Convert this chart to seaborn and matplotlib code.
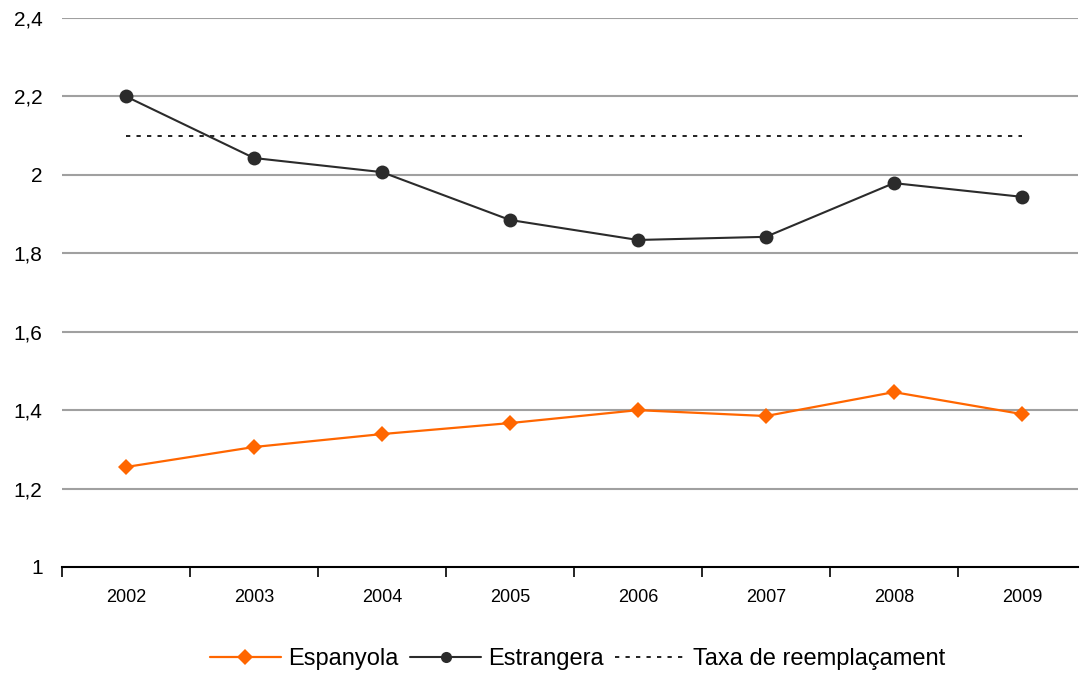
import matplotlib
matplotlib.use("Agg")
import matplotlib.pyplot as plt
import seaborn as sns
import pandas as pd
from matplotlib.lines import Line2D

years = ["2002", "2003", "2004", "2005", "2006", "2007", "2008", "2009"]
espanyola = [1.255, 1.306, 1.339, 1.367, 1.400, 1.385, 1.446, 1.390]
estrangera = [2.200, 2.043, 2.007, 1.885, 1.834, 1.842, 1.979, 1.944]
taxa = [2.1] * len(years)
y_ticks = [1.0, 1.2, 1.4, 1.6, 1.8, 2.0, 2.2, 2.4]
y_labels = ["1", "1,2", "1,4", "1,6", "1,8", "2", "2,2", "2,4"]

sns.set_theme(style="white")
plt.rcParams["font.family"] = ["Liberation Sans", "DejaVu Sans"]
plt.rcParams["text.color"] = "black"
plt.rcParams["xtick.color"] = "black"
plt.rcParams["ytick.color"] = "black"

pos = list(range(len(years)))
df = pd.DataFrame({"pos": pos, "Espanyola": espanyola,
                   "Estrangera": estrangera, "Taxa": taxa})

fig = plt.figure(figsize=(10.8, 6.75), dpi=100)
ax = fig.add_axes([0.0574, 0.16, 0.9406, 0.8133])

orange = "#FF6600"
dark = "#2B2B2B"

for yt in y_ticks[1:]:
    ax.axhline(yt, color="#A0A0A0", lw=1.5, zorder=0)

sns.lineplot(data=df, x="pos", y="Taxa", ax=ax, color="#222222", lw=1.4,
             linestyle=(0, (2.2, 3.2)), zorder=2)
sns.lineplot(data=df, x="pos", y="Espanyola", ax=ax, color=orange, lw=1.6,
             marker="D", markersize=8, markeredgewidth=0, zorder=3)
sns.lineplot(data=df, x="pos", y="Estrangera", ax=ax, color=dark, lw=1.5,
             marker="o", markersize=10, markeredgewidth=0, zorder=3)

ax.set_xlim(-0.5, len(years) - 0.5625)
ax.set_ylim(1.0, 2.4)
ax.set_yticks(y_ticks)
ax.set_yticklabels(y_labels, fontsize=15, color="black")
ax.tick_params(axis="y", length=0, pad=14)
ax.set_xticks(pos)
ax.set_xticklabels(years, fontsize=13, color="black")
ax.tick_params(axis="x", which="major", length=0, pad=16)
ax.set_xticks([p - 0.5 for p in pos], minor=True)
ax.tick_params(axis="x", which="minor", bottom=True, length=7, width=1.2,
               color="black", direction="out")
ax.set_xlabel("")
ax.set_ylabel("")

for side in ["left", "right", "top"]:
    ax.spines[side].set_visible(False)
ax.spines["bottom"].set_color("black")
ax.spines["bottom"].set_linewidth(1.5)

handles = [
    Line2D([], [], color=orange, lw=1.6, marker="D", markersize=8,
           markeredgewidth=0),
    Line2D([], [], color=dark, lw=1.5, marker="o", markersize=8,
           markeredgewidth=0),
    Line2D([], [], color="#222222", lw=1.4, linestyle=(0, (2.2, 3.2))),
]
fig.legend(handles, ["Espanyola", "Estrangera", "Taxa de reemplaçament"],
           loc="center", bbox_to_anchor=(0.535, 0.0235), ncol=3,
           frameon=False, fontsize=17, handlelength=3.0, handletextpad=0.3,
           columnspacing=0.5, labelcolor="black")

fig.savefig("out.png", dpi=100)
